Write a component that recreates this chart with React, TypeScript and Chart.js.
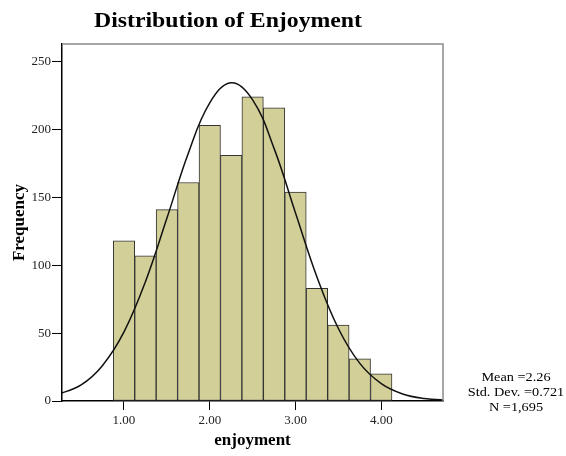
import React, { useEffect, useRef } from "react";
import { Chart, registerables } from "chart.js";

Chart.register(...registerables);

const titleText = "Distribution of Enjoyment";
const xTitle = "enjoyment";
const yTitle = "Frequency";
const statsLines = ["Mean =2.26", "Std. Dev. =0.721", "N =1,695"];

const binCenters = [1.0, 1.25, 1.5, 1.75, 2.0, 2.25, 2.5, 2.75, 3.0, 3.25, 3.5, 3.75, 4.0];
const frequencies = [118, 107, 141, 161, 203, 181, 224, 216, 154, 83, 56, 31, 20];

const curveX = [0.2, 0.5, 0.75, 1.0, 1.25, 1.5, 1.75, 2.0, 2.25, 2.5, 2.75, 3.0, 3.25, 3.5, 3.75, 4.0, 4.25, 4.5, 4.8];
const curveY = [4.2, 11.9, 26.2, 50.9, 87.9, 134.6, 182.6, 219.7, 234.5, 221.9, 186.1, 138.5, 91.4, 53.4, 27.7, 12.8, 5.2, 1.9, 0.5];

const xTickValues = [1, 2, 3, 4];
const yTickValues = [0, 50, 100, 150, 200, 250];

const FONT = '"Liberation Serif", "Times New Roman", serif';

export default function App() {
  const ref = useRef<HTMLCanvasElement>(null);
  useEffect(() => {
    if (!ref.current) return;
    const overlay = {
      id: "overlay",
      afterDraw(chart: any) {
        const ctx = chart.ctx;
        const a = chart.chartArea;
        ctx.save();
        ctx.strokeStyle = "#8a8a8a";
        ctx.lineWidth = 1.5;
        ctx.beginPath();
        ctx.moveTo(a.left, a.top);
        ctx.lineTo(a.right, a.top);
        ctx.lineTo(a.right, a.bottom);
        ctx.stroke();
        ctx.fillStyle = "#000";
        ctx.textAlign = "center";
        ctx.textBaseline = "middle";
        ctx.save();
        ctx.translate(228, 21);
        ctx.scale(1.08, 1);
        ctx.font = `bold 22px ${FONT}`;
        ctx.fillText(titleText, 0, 0);
        ctx.restore();
        ctx.save();
        ctx.translate(516, 378);
        ctx.scale(1.1, 1);
        ctx.font = `13px ${FONT}`;
        statsLines.forEach((s, i) => ctx.fillText(s, 0, i * 15));
        ctx.restore();
        ctx.restore();
      },
    };
    const chart = new Chart(ref.current, {
      type: "bar",
      data: {
        datasets: [
          {
            type: "line",
            data: curveX.map((x, i) => ({ x, y: curveY[i] })),
            borderColor: "#111",
            borderWidth: 1.5,
            pointRadius: 0,
            tension: 0.4,
            fill: false,
            order: 0,
          } as any,
          {
            type: "bar",
            data: binCenters.map((x, i) => ({ x, y: frequencies[i] })),
            backgroundColor: "#D3CF99",
            borderColor: "#333",
            borderWidth: 1,
            borderSkipped: false,
            barPercentage: 1,
            categoryPercentage: 1,
            order: 1,
          } as any,
        ],
      },
      options: {
        responsive: false,
        animation: false,
        layout: { padding: { left: 0, top: 44, right: 123, bottom: 0 } },
        plugins: { legend: { display: false }, tooltip: { enabled: false } },
        scales: {
          x: {
            type: "linear",
            min: 0.277,
            max: 4.72,
            offset: false,
            afterFit: (s: any) => { s.height = 55; },
            afterBuildTicks: (s: any) => { s.ticks = xTickValues.map((v) => ({ value: v })); },
            grid: { offset: false, drawOnChartArea: false, drawTicks: true, tickLength: 9, color: "#000" },
            border: { color: "#000", width: 1.5 },
            ticks: {
              color: "#222",
              font: { family: FONT, size: 13 },
              padding: 3,
              maxRotation: 0,
              callback: (v: any) => Number(v).toFixed(2),
            },
            title: { display: true, text: xTitle, color: "#000", font: { family: FONT, size: 17, weight: "bold" }, padding: { top: 0, bottom: 5 } },
          },
          y: {
            min: 0,
            max: 263,
            afterFit: (s: any) => { s.width = 62; },
            afterBuildTicks: (s: any) => { s.ticks = yTickValues.map((v) => ({ value: v })); },
            grid: { offset: false, drawOnChartArea: false, drawTicks: true, tickLength: 10, color: "#000" },
            border: { color: "#000", width: 1.5 },
            ticks: { color: "#222", font: { family: FONT, size: 13 }, padding: 1 },
            title: { display: true, text: yTitle, color: "#000", font: { family: FONT, size: 17, weight: "bold" }, padding: { top: 9, bottom: 0 } },
          },
        },
      } as any,
      plugins: [overlay],
    });
    return () => chart.destroy();
  }, []);
  return (
    <div style={{ position: "fixed", left: 0, top: 0, width: 566, height: 456, background: "#fff" }}>
      <canvas ref={ref} width={566} height={456} />
    </div>
  );
}
